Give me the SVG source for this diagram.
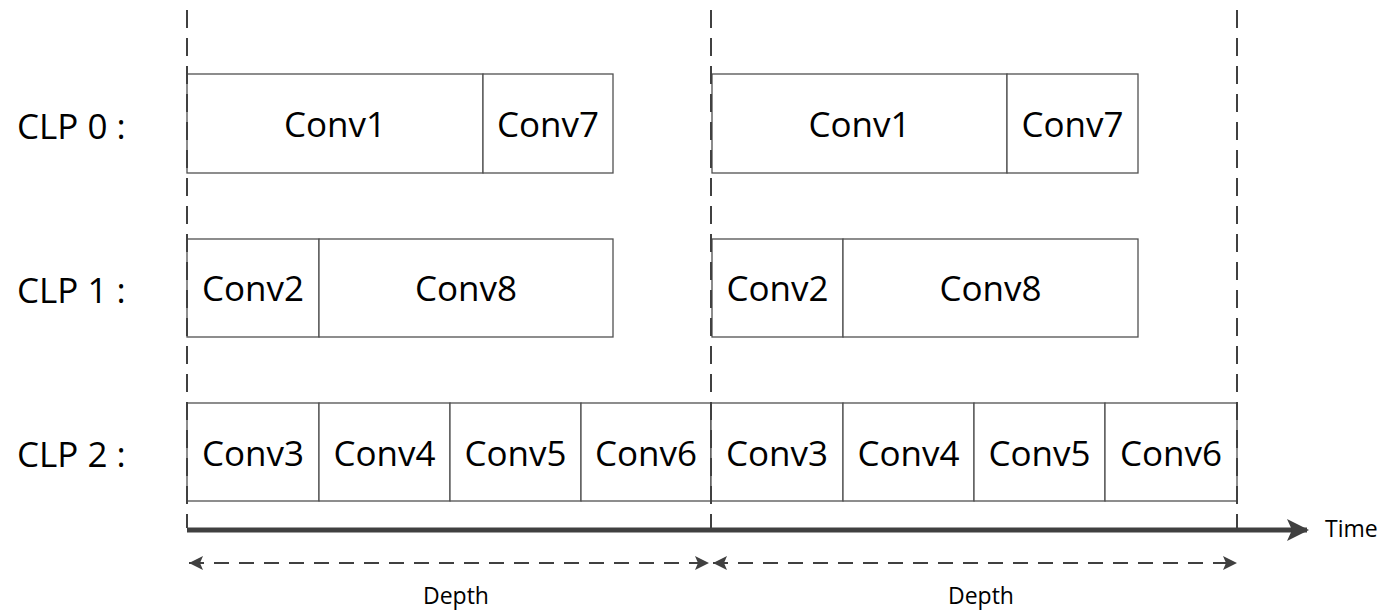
<svg xmlns="http://www.w3.org/2000/svg" width="1384" height="611" viewBox="0 0 1384 611">
  <style>
    .box { fill: #ffffff; stroke: #505050; stroke-width: 1.3; }
    .lbl { font-family: "Open Sans", "Liberation Sans", sans-serif; font-size: 35px; fill: #000; text-anchor: middle; }
    .row { font-family: "Open Sans", "Liberation Sans", sans-serif; font-size: 35px; fill: #000; }
    .small { font-family: "Open Sans", "Liberation Sans", sans-serif; font-size: 23px; fill: #000; }
    .guide { stroke: #404040; stroke-width: 2; stroke-dasharray: 18 10; fill: none; }
    .span { stroke: #404040; stroke-width: 2; stroke-dasharray: 15 10; fill: none; }
    .axis { stroke: #404040; stroke-width: 5; fill: none; }
  </style>
  <defs>
    <marker id="headS" viewBox="0 0 14 14" refX="14" refY="7" markerWidth="14" markerHeight="14" markerUnits="userSpaceOnUse" orient="auto-start-reverse">
      <path d="M0,0 L14,7 L0,14 L3,7 Z" fill="#404040"/>
    </marker>
    <marker id="headL" viewBox="0 0 22 22" refX="20" refY="11" markerWidth="22" markerHeight="22" markerUnits="userSpaceOnUse" orient="auto">
      <path d="M0,0 L22,11 L0,22 L5,11 Z" fill="#404040"/>
    </marker>
  </defs>

  <!-- row labels -->
  <g id="row-labels">
    <text class="row" x="17" y="139">CLP 0 :</text>
    <text class="row" x="17" y="303">CLP 1 :</text>
    <text class="row" x="17" y="467">CLP 2 :</text>
  </g>

  <!-- first period -->
  <g id="p1-conv1"><rect class="box" x="187" y="74" width="296" height="99"/><text class="lbl" x="335" y="137">Conv1</text></g>
  <g id="p1-conv7"><rect class="box" x="483" y="74" width="130" height="99"/><text class="lbl" x="548" y="137">Conv7</text></g>
  <g id="p1-conv2"><rect class="box" x="187" y="239" width="132" height="98"/><text class="lbl" x="253" y="301">Conv2</text></g>
  <g id="p1-conv8"><rect class="box" x="319" y="239" width="294" height="98"/><text class="lbl" x="466" y="301">Conv8</text></g>
  <g id="p1-conv3"><rect class="box" x="187" y="403" width="132" height="98"/><text class="lbl" x="253" y="466">Conv3</text></g>
  <g id="p1-conv4"><rect class="box" x="319" y="403" width="131" height="98"/><text class="lbl" x="384.5" y="466">Conv4</text></g>
  <g id="p1-conv5"><rect class="box" x="450" y="403" width="131" height="98"/><text class="lbl" x="515.5" y="466">Conv5</text></g>
  <g id="p1-conv6"><rect class="box" x="581" y="403" width="130" height="98"/><text class="lbl" x="646" y="466">Conv6</text></g>

  <!-- second period -->
  <g id="p2-conv1"><rect class="box" x="712" y="74" width="295" height="99"/><text class="lbl" x="859.5" y="137">Conv1</text></g>
  <g id="p2-conv7"><rect class="box" x="1007" y="74" width="131" height="99"/><text class="lbl" x="1072.5" y="137">Conv7</text></g>
  <g id="p2-conv2"><rect class="box" x="712" y="239" width="131" height="98"/><text class="lbl" x="777.5" y="301">Conv2</text></g>
  <g id="p2-conv8"><rect class="box" x="843" y="239" width="295" height="98"/><text class="lbl" x="990.5" y="301">Conv8</text></g>
  <g id="p2-conv3"><rect class="box" x="711" y="403" width="132" height="98"/><text class="lbl" x="777" y="466">Conv3</text></g>
  <g id="p2-conv4"><rect class="box" x="843" y="403" width="131" height="98"/><text class="lbl" x="908.5" y="466">Conv4</text></g>
  <g id="p2-conv5"><rect class="box" x="974" y="403" width="131" height="98"/><text class="lbl" x="1039.5" y="466">Conv5</text></g>
  <g id="p2-conv6"><rect class="box" x="1105" y="403" width="132" height="98"/><text class="lbl" x="1171" y="466">Conv6</text></g>

  <!-- guides, time axis and depth spans -->
  <g id="connectors">
    <line class="guide" x1="187" y1="10" x2="187" y2="528"/>
    <line class="guide" x1="711" y1="10" x2="711" y2="528"/>
    <line class="guide" x1="1237" y1="10" x2="1237" y2="528"/>
    <line class="axis" x1="187" y1="530" x2="1307" y2="530" marker-end="url(#headL)"/>
    <line class="span" x1="189" y1="563" x2="709" y2="563" marker-start="url(#headS)" marker-end="url(#headS)"/>
    <line class="span" x1="713" y1="563" x2="1237" y2="563" marker-start="url(#headS)" marker-end="url(#headS)"/>
  </g>

  <g id="axis-labels">
    <text class="small" x="1325" y="537">Time</text>
    <text class="small" x="456" y="604" text-anchor="middle">Depth</text>
    <text class="small" x="981" y="604" text-anchor="middle">Depth</text>
  </g>
</svg>
